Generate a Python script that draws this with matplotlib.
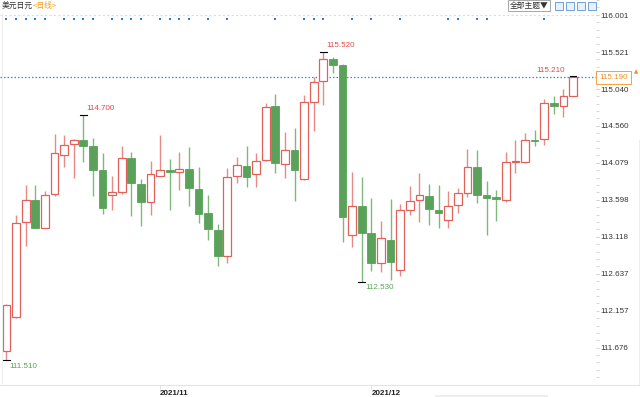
import matplotlib.pyplot as plt
from matplotlib.patches import Rectangle
import numpy as np

# USD/JPY daily candles, 2021-10-08 .. 2021-12-30
opens = [111.628, 112.072, 113.308, 113.602, 113.239, 113.671, 114.181, 114.319, 114.376, 114.298,
         113.982, 113.658, 113.702, 114.137, 113.809, 113.572, 113.913, 113.987, 113.956, 114.000,
         113.744, 113.424, 113.213, 112.867, 113.909, 114.042, 113.930, 114.116, 114.816, 114.065,
         114.246, 113.870, 114.876, 115.140, 115.425, 115.355, 113.144, 113.515, 113.165, 112.781,
         113.083, 112.682, 113.472, 113.598, 113.654, 113.472, 113.334, 113.533, 113.689, 114.030,
         113.658, 113.641, 113.598, 114.090, 114.090, 114.379, 114.389, 114.855, 114.816, 114.954]
highs = [112.250, 113.407, 113.792, 113.796, 113.715, 114.457, 114.444, 114.396, 114.700, 114.405,
         114.207, 113.913, 114.302, 114.220, 113.874, 114.098, 114.440, 114.133, 114.224, 114.280,
         114.030, 113.667, 113.287, 114.007, 114.159, 114.298, 114.207, 114.859, 114.972, 114.483,
         114.535, 114.959, 115.192, 115.520, 115.459, 115.370, 113.956, 113.891, 113.624, 113.330,
         113.611, 113.550, 113.774, 113.948, 113.805, 113.792, 113.718, 113.757, 114.259, 114.250,
         113.848, 113.728, 114.224, 114.376, 114.470, 114.513, 114.907, 114.950, 115.037, 115.210]
lows = [111.510, 112.060, 112.993, 113.230, 113.230, 113.650, 114.020, 113.878, 114.085, 113.654,
        113.416, 113.472, 113.676, 113.391, 113.261, 113.407, 113.904, 113.463, 113.722, 113.515,
        113.295, 113.079, 112.733, 112.781, 113.813, 113.761, 113.761, 114.098, 113.943, 113.878,
        113.589, 113.860, 114.496, 114.837, 115.244, 113.048, 112.989, 112.530, 112.669, 112.660,
        112.561, 112.608, 113.404, 113.308, 113.274, 113.230, 113.235, 113.424, 113.632, 113.563,
        113.144, 113.330, 113.567, 113.952, 114.080, 114.298, 114.311, 114.713, 114.674, 114.954]
closes = [112.232, 113.300, 113.602, 113.239, 113.667, 114.211, 114.311, 114.379, 114.302, 113.987,
          113.498, 113.696, 114.142, 113.822, 113.572, 113.935, 113.987, 113.956, 114.000, 113.757,
          113.411, 113.226, 112.867, 113.900, 114.046, 113.891, 114.103, 114.807, 114.081, 114.246,
          113.987, 114.872, 115.135, 115.425, 115.355, 113.378, 113.524, 113.170, 112.781, 113.105,
          112.789, 113.468, 113.589, 113.663, 113.481, 113.429, 113.520, 113.689, 114.030, 113.663,
          113.624, 113.606, 114.090, 114.098, 114.376, 114.367, 114.859, 114.820, 114.946, 115.190]

# candles carrying an event dot along the top
event_idx = [0, 1, 2, 3, 4, 6, 7, 8, 9, 11, 12, 13, 14, 16, 17, 18, 19, 21, 23, 28,
             31, 32, 33, 36, 38, 41, 46, 47, 49, 50, 56]

month_idx = [16, 38]
month_labels = ["2021/11", "2021/12"]

ytick_vals = [111.676, 112.157, 112.637, 113.118, 113.598, 114.079, 114.560, 115.040, 115.521, 116.001]

# marked extremes: (candle index, price, is_high)
extremes = [(0, 111.510, False), (8, 114.700, True), (33, 115.520, True),
            (37, 112.530, False), (59, 115.210, True)]
last_price = 115.190

UP = '#e0605a'
UP_WICK = '#e88a86'
DOWN = '#5aa25a'
DOWN_WICK = '#7db87d'
NUM_FONT = 'Liberation Sans'
CJK = ['Noto Sans CJK SC', 'DejaVu Sans']

W, H = 640, 397
fig = plt.figure(figsize=(W / 100, H / 100), dpi=100)
ax = fig.add_axes([0, 12 / H, 596 / W, 385 / H])

n = len(opens)
for i in range(n):
    o, h, l, c = opens[i], highs[i], lows[i], closes[i]
    up = c >= o
    ax.vlines(i, l, h, color=UP_WICK if up else DOWN_WICK, lw=1.0, zorder=1)
    body_lo = min(o, c)
    body_h = max(abs(c - o), 0.012)
    if up:
        ax.add_patch(Rectangle((i - 0.4, body_lo), 0.8, body_h, facecolor='white',
                               edgecolor=UP, lw=0.9, zorder=2))
    else:
        ax.add_patch(Rectangle((i - 0.4, body_lo), 0.8, body_h, facecolor=DOWN,
                               edgecolor=DOWN, lw=0.6, zorder=2))

ax.set_xlim(-0.677, 61.4)
ax.set_ylim(111.191, 116.181)

# last price line and top grid line
ax.axhline(last_price, color='#2a8be0', lw=0.9, ls=(0, (1.2, 1.6)), zorder=0)
ax.axhline(ytick_vals[-1], color='#dddddd', lw=0.8, ls=(0, (2, 2)), zorder=0)

# event dots
ax.scatter(event_idx, [115.948] * len(event_idx), s=4, marker='s', color='#2a7dd0', lw=0, zorder=3)

# extreme labels
for i, p, is_high in extremes:
    ax.plot([i - 0.35, i + 0.35], [p, p], color='black', lw=0.8, zorder=4)
    if is_high:
        col = '#e04848'
        if i == n - 1:
            ax.text(i - 0.85, p + 0.03, f"{p:.3f}", color=col, fontsize=5.8,
                    family=NUM_FONT, ha='right', va='bottom')
        else:
            ax.text(i + 0.3, p + 0.04, f"{p:.3f}", color=col, fontsize=5.8,
                    family=NUM_FONT, ha='left', va='bottom')
    else:
        ax.text(i + 0.35, p - 0.03, f"{p:.3f}", color='#55a555', fontsize=5.8,
                family=NUM_FONT, ha='left', va='top')

# axes styling
for s in ['top', 'left', 'right']:
    ax.spines[s].set_visible(False)
ax.spines['bottom'].set_color('#e4e4e4')
ax.spines['bottom'].set_linewidth(0.8)

ax.yaxis.tick_right()
ax.set_yticks(ytick_vals, [f"{v:.3f}" for v in ytick_vals])
ax.set_yticks(np.arange(111.676 - 0.0962 * 5, 116.2, 0.0962), minor=True)
ax.tick_params(axis='y', which='both', length=2, width=0.6, color='#cfcfcf', pad=1.5,
               labelsize=5.8, labelcolor='#333333', direction='out')
for lab in ax.get_yticklabels():
    lab.set_family(NUM_FONT)

ax.set_xticks(month_idx, month_labels)
ax.tick_params(axis='x', length=3, width=0.6, color='#dddddd', pad=0.5,
               labelsize=5.8, labelcolor='#222222')
for lab in ax.get_xticklabels():
    lab.set_family(NUM_FONT)
    lab.set_fontweight('bold')
    lab.set_horizontalalignment('left')

# current price box on the axis
ax.text(1.0 + 3 / 596, last_price, f"{last_price:.3f}", transform=ax.get_yaxis_transform(),
        fontsize=5.8, family=NUM_FONT, color='#f39020', ha='left', va='center', zorder=6,
        bbox=dict(boxstyle='square,pad=0.4', facecolor='white', edgecolor='#f5a040', lw=0.7))
fig.text(636 / W, 1 - 72 / H, '▲', fontsize=4, color='#f39020', ha='center', va='center')

# faint frame pieces
fig.add_artist(plt.Line2D([1.5 / W, 1.5 / W], [12 / H, 1 - 13 / H], color='#eeeeee', lw=0.8))
fig.add_artist(plt.Line2D([638.5 / W, 638.5 / W], [12 / H, 1 - 140 / H], color='#eeeeee', lw=0.8))
fig.add_artist(plt.Line2D([596 / W, 1], [12 / H, 12 / H], color='#e4e4e4', lw=0.8))
fig.add_artist(Rectangle((435 / W, 0), 113 / W, 2 / H, transform=fig.transFigure,
                         facecolor='#eeeeee', edgecolor='none'))

# title
fig.text(2 / W, 1 - 6 / H, '美元日元', fontsize=5.6, family=CJK,
         color='#333333', va='center', ha='left')
fig.text(33 / W, 1 - 6 / H, '<日线>', fontsize=5.6, family=CJK,
         color='#f39c12', va='center', ha='left')

# toolbar
fig.text(529 / W, 1 - 5.5 / H, '全部主题▼', fontsize=5.6, family=CJK,
         color='#333333', va='center', ha='center',
         bbox=dict(boxstyle='square,pad=0.15', facecolor='white', edgecolor='#999999', lw=0.6))
for bx in [555, 566, 577, 588]:
    fig.add_artist(Rectangle((bx / W, 1 - 10 / H), 8 / W, 8 / H, transform=fig.transFigure,
                             facecolor='#e8f1fb', edgecolor='#5b95d0', lw=0.6))

fig.savefig('out.png', dpi=100)
